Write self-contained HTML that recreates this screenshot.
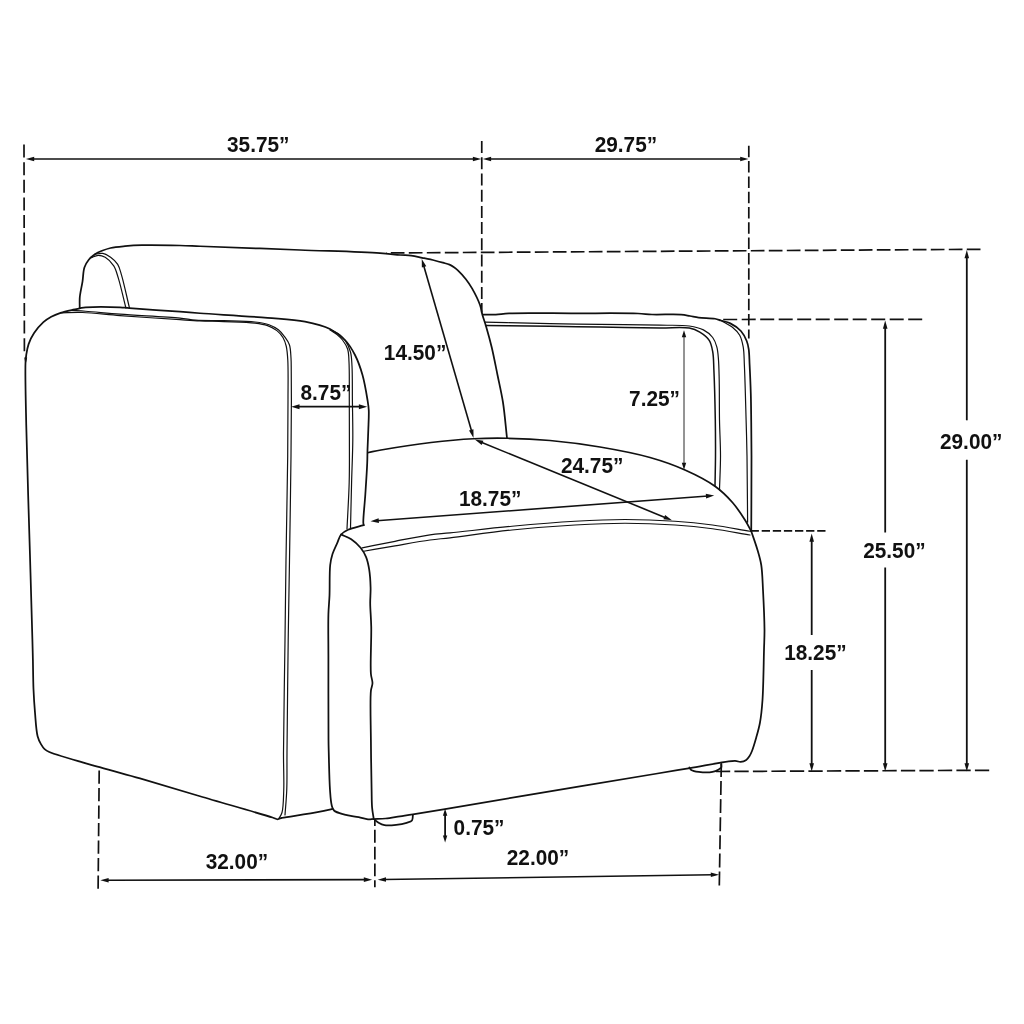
<!DOCTYPE html>
<html><head><meta charset="utf-8"><title>Chair dimensions</title>
<style>
html,body{margin:0;padding:0;background:#fff;}
body{width:1024px;height:1024px;overflow:hidden;}
svg{display:block;will-change:transform;}
text{font-family:"Liberation Sans",sans-serif;font-weight:bold;font-size:22.5px;fill:#111;}
</style></head><body>
<svg width="1024" height="1024" viewBox="0 0 1024 1024">
<rect width="1024" height="1024" fill="#fff"/>
<g fill="none" stroke="#111" stroke-width="1.75" stroke-linecap="round" stroke-linejoin="round">
<path d="M79.70,308.10 C79.73,304.47 79.44,301.14 79.80,297.20 C80.23,292.45 81.72,286.68 82.50,281.60 C83.24,276.79 83.10,271.41 84.40,267.50 C85.43,264.40 86.94,261.94 88.75,259.70 C90.50,257.53 92.75,255.70 95.00,254.20 C97.18,252.75 99.51,251.80 102.00,250.80 C104.68,249.72 107.33,248.73 110.60,248.00 C114.75,247.07 120.00,246.66 125.00,246.20 C130.40,245.70 135.13,245.37 141.90,245.20 C152.05,244.94 169.33,245.26 180.00,245.50 C187.73,245.68 190.79,245.90 200.00,246.25 C220.60,247.02 268.52,248.80 300.00,250.00 C328.15,251.07 362.14,251.92 380.00,253.10 C389.01,253.70 394.57,254.57 400.30,255.00 C404.51,255.31 407.62,255.14 411.25,255.60 C414.92,256.07 418.43,257.01 422.20,257.80 C426.23,258.64 430.97,259.60 434.70,260.50 C437.76,261.24 440.41,261.98 443.00,262.70 C445.30,263.34 447.58,263.76 449.50,264.60 C451.19,265.34 452.57,266.30 454.00,267.30 C455.43,268.30 456.58,269.17 458.10,270.60 C460.36,272.73 463.54,276.18 465.90,279.20 C468.23,282.18 470.12,284.95 472.20,288.60 C474.83,293.23 478.30,300.21 480.00,305.00 C481.24,308.50 481.36,311.06 482.30,314.40 C483.39,318.29 484.88,322.21 486.25,326.90 C487.98,332.83 489.95,339.88 491.70,347.20 C493.73,355.71 495.61,365.75 497.50,375.00 C499.38,384.19 501.47,392.71 503.00,402.50 C504.72,413.54 505.67,426.17 507.00,438.00"/>
<path d="M79.70,308.10 C81.67,307.83 82.81,307.49 85.60,307.30 C92.31,306.85 112.13,306.97 120.00,307.30 C124.12,307.48 125.02,307.76 129.40,308.10 C139.56,308.89 166.98,310.73 180.00,311.70 C188.19,312.31 191.36,312.62 200.00,313.25 C215.86,314.40 248.29,316.18 267.50,317.80 C281.84,319.01 293.85,319.41 305.00,321.60 C314.27,323.42 322.98,325.52 330.00,329.00 C335.93,331.94 340.81,335.62 345.00,340.00 C349.12,344.31 352.16,349.46 355.00,355.00 C358.09,361.03 360.47,367.87 362.50,375.00 C364.72,382.79 366.45,393.53 367.50,400.00 C368.16,404.07 368.55,406.09 368.75,410.00 C369.03,415.51 368.51,423.33 368.30,430.00 C368.09,436.67 367.69,444.00 367.50,450.00 C367.35,454.91 367.42,458.00 367.20,463.40 C366.86,471.66 365.97,484.55 365.30,494.70 C364.67,504.32 363.06,518.57 363.30,522.80 C363.37,524.05 363.60,524.40 363.75,525.20"/>
<path d="M79.70,308.40 C77.50,308.83 75.64,309.14 73.10,309.70 C69.58,310.48 64.42,311.54 60.60,312.80 C57.21,313.92 54.15,315.10 51.25,316.70 C48.43,318.25 45.98,319.85 43.40,322.20 C40.25,325.07 36.62,329.30 34.10,333.10 C31.77,336.62 29.92,340.36 28.60,344.10 C27.35,347.66 26.77,351.66 26.25,355.00 C25.81,357.80 25.66,358.95 25.50,362.80 C25.05,373.64 25.75,400.45 26.25,425.00 C26.97,460.63 28.89,517.16 30.00,556.00 C30.89,587.10 31.91,621.64 32.40,640.00 C32.64,648.96 32.73,652.70 32.90,660.00 C33.10,668.84 33.11,680.09 33.50,689.30 C33.85,697.54 34.32,704.90 35.00,712.70 C35.68,720.53 36.09,730.46 37.60,736.20 C38.53,739.72 39.78,742.11 41.10,744.40 C42.17,746.26 43.21,747.82 44.60,749.10 C45.95,750.34 46.79,750.87 49.30,752.00 C57.06,755.49 83.81,762.60 99.70,767.20 C113.86,771.30 125.26,774.16 140.00,778.40 C158.04,783.59 179.05,790.06 200.00,796.25 C223.02,803.05 262.46,814.28 272.50,817.50 C275.16,818.35 275.95,819.24 277.50,819.25 C278.84,819.26 280.00,818.42 281.25,818.00"/>
<path d="M281.25,818.00 C294.17,815.90 310.66,813.50 320.00,811.70 C325.33,810.67 328.33,809.83 332.50,808.90"/>
<path d="M368.50,452.50 C372.67,451.67 375.43,450.97 381.00,450.00 C392.10,448.06 414.98,444.41 431.00,442.50 C445.71,440.75 460.11,439.44 473.50,438.75 C485.45,438.14 495.54,438.02 507.50,438.25 C520.88,438.51 535.28,439.16 550.00,440.50 C566.02,441.96 583.39,444.18 600.00,447.00 C616.72,449.84 634.95,453.25 650.00,457.50 C662.84,461.12 673.96,465.07 685.00,470.00 C695.58,474.72 706.65,480.26 715.00,486.25 C721.99,491.26 727.41,496.71 732.50,502.50 C737.33,508.00 741.66,514.72 745.00,520.00 C747.58,524.08 749.17,527.50 751.25,531.25"/>
<path d="M482.90,314.60 C487.20,314.60 491.48,314.81 495.80,314.60 C500.18,314.38 502.91,313.60 509.00,313.30 C522.59,312.63 553.26,313.27 575.00,313.30 C596.24,313.33 624.55,313.00 638.00,313.50 C644.35,313.74 646.48,314.29 652.00,314.50 C659.94,314.80 674.21,314.05 681.10,314.60 C684.94,314.91 687.05,315.50 690.00,316.00 C692.92,316.50 695.33,317.17 698.70,317.60 C703.29,318.18 711.05,318.01 715.10,318.75 C717.56,319.20 718.74,319.84 720.90,320.50 C723.66,321.34 727.20,321.86 730.30,323.40 C733.87,325.17 738.13,327.95 740.90,331.00 C743.51,333.87 745.39,337.74 746.70,341.00 C747.82,343.79 748.22,346.02 748.70,349.20 C749.34,353.49 749.30,358.58 749.60,364.50 C750.01,372.68 750.53,384.26 750.80,393.75 C751.05,402.73 751.09,410.56 751.20,420.00 C751.33,431.05 751.46,441.81 751.50,456.00 C751.55,476.51 751.33,506.17 751.25,531.25"/>
<path d="M363.75,525.20 C358.53,526.73 352.17,527.89 348.10,529.80 C345.17,531.17 342.90,532.38 341.10,534.50 C339.20,536.75 338.54,540.05 337.20,543.10 C335.69,546.53 333.67,550.38 332.50,554.10 C331.37,557.69 330.73,560.42 330.20,565.00 C329.32,572.59 329.86,586.64 329.50,595.60 C329.21,602.63 328.62,606.90 328.40,614.40 C328.07,625.55 328.39,639.72 328.40,656.00 C328.41,679.13 328.33,724.41 328.50,740.00 C328.56,746.01 328.61,747.22 328.75,752.50 C328.99,761.65 329.30,780.29 330.00,790.00 C330.45,796.20 330.71,801.49 331.70,805.20 C332.31,807.48 332.50,809.06 334.00,810.50 C336.10,812.52 340.76,813.51 344.60,814.60 C348.91,815.82 354.49,816.34 358.70,817.20 C362.13,817.90 365.32,819.08 368.00,819.30 C370.00,819.47 371.53,819.10 373.30,819.00"/>
<path d="M341.10,534.50 C344.48,536.07 348.09,537.09 351.25,539.20 C354.62,541.45 358.07,544.66 360.60,547.80 C362.94,550.70 364.69,553.73 366.10,557.20 C367.63,560.97 368.46,565.12 369.20,569.70 C370.08,575.14 370.45,581.99 370.60,587.80 C370.74,593.19 370.15,597.67 370.20,603.40 C370.27,610.43 371.08,617.73 371.25,626.90 C371.49,639.85 370.12,664.13 370.90,673.75 C371.25,678.08 372.55,680.13 372.50,683.10 C372.46,685.82 371.28,687.15 370.90,690.90 C369.96,700.20 370.78,723.56 370.90,740.00 C371.02,756.59 371.34,777.59 371.60,790.00 C371.76,797.36 371.65,802.42 372.10,807.60 C372.46,811.74 373.17,815.00 373.70,818.70"/>
<path d="M373.30,819.10 C377.40,818.90 381.35,818.93 385.60,818.50 C390.22,818.04 395.33,817.00 400.00,816.30 C404.42,815.64 407.64,815.22 412.90,814.40 C421.21,813.10 432.07,811.26 445.00,809.10 C464.78,805.79 491.30,801.22 520.00,796.40 C558.63,789.91 625.78,778.78 656.00,773.75 C671.11,771.24 677.87,770.08 690.00,768.10 C703.95,765.83 727.18,760.83 735.00,760.90 C737.76,760.92 738.75,762.04 740.60,761.90 C742.50,761.76 744.75,761.02 746.25,760.00 C747.61,759.07 748.48,757.65 749.40,756.25 C750.38,754.75 751.04,753.37 751.90,751.25 C753.28,747.84 754.92,742.20 756.25,737.50 C757.63,732.63 759.00,728.04 760.00,722.50 C761.21,715.79 761.87,708.99 762.50,700.00 C763.44,686.63 763.64,662.91 764.00,650.00 C764.22,641.83 764.55,637.81 764.50,630.00 C764.43,618.95 763.63,601.77 763.00,590.00 C762.50,580.69 762.40,572.23 761.25,565.00 C760.35,559.32 759.03,555.25 757.50,550.00 C755.77,544.07 753.33,537.50 751.25,531.25"/>
<path d="M689.40,767.50 C690.02,768.33 690.26,769.33 691.25,770.00 C692.82,771.05 695.85,771.54 698.75,771.90 C702.62,772.38 708.86,772.60 712.50,771.90 C715.05,771.41 717.18,770.29 718.75,769.40 C719.82,768.79 720.81,768.38 721.25,767.50 C721.73,766.54 721.25,765.00 721.25,763.75"/>
<path d="M374.85,819.90 C376.10,820.87 377.14,821.96 378.60,822.80 C380.29,823.77 382.15,824.77 384.50,825.20 C387.69,825.78 392.42,825.32 396.20,824.90 C399.81,824.50 403.83,823.70 406.70,822.80 C408.81,822.14 410.97,821.81 412.00,820.50 C412.99,819.24 412.60,816.97 412.90,815.20"/>
</g>
<g fill="none" stroke="#111" stroke-width="1.2" stroke-linecap="round" stroke-linejoin="round">
<path d="M91.10,257.80 C93.43,256.97 95.75,255.38 98.10,255.30 C100.45,255.22 102.90,255.95 105.20,257.30 C108.15,259.04 111.57,262.49 113.75,265.90 C116.04,269.47 116.81,273.29 118.40,278.40 C120.81,286.14 123.40,298.20 125.90,308.10"/>
<path d="M95.00,254.20 C97.60,253.93 100.27,252.94 102.80,253.40 C105.47,253.89 108.19,255.56 110.60,257.30 C113.19,259.16 115.89,261.54 117.70,264.40 C119.64,267.47 120.21,270.65 121.60,275.30 C123.95,283.18 126.80,296.90 129.40,307.70"/>
<path d="M60.60,312.80 C67.90,312.70 74.23,312.22 82.50,312.50 C93.34,312.87 106.03,314.55 120.00,315.60 C137.66,316.93 165.36,318.76 180.00,319.70 C188.45,320.24 193.04,320.59 200.00,320.90 C207.57,321.24 215.29,321.27 223.75,321.60 C233.45,321.98 246.96,322.11 255.00,323.10 C260.13,323.73 263.72,324.25 267.50,325.60 C270.96,326.83 274.25,328.50 276.90,330.60 C279.39,332.58 281.54,335.07 283.10,337.70 C284.64,340.29 285.48,342.99 286.25,346.25 C287.21,350.30 287.46,354.42 287.80,360.30 C288.37,370.16 288.00,385.63 288.00,400.00 C288.00,417.07 287.93,434.47 287.70,456.00 C287.38,485.34 286.47,527.60 286.00,560.00 C285.59,588.41 285.37,611.07 285.00,640.00 C284.56,674.31 283.59,725.05 283.50,752.50 C283.45,768.35 284.14,779.09 283.75,790.00 C283.45,798.46 283.45,807.42 282.00,812.50 C281.19,815.34 279.83,816.67 278.75,818.75"/>
<path d="M71.60,310.50 C76.27,310.75 79.91,310.85 85.60,311.25 C94.54,311.87 106.94,313.22 120.00,314.20 C137.23,315.50 166.51,316.75 180.00,318.10 C186.90,318.79 189.62,319.75 195.60,320.20 C203.59,320.81 214.12,320.41 223.75,320.70 C233.90,321.00 246.68,321.03 255.00,322.00 C260.62,322.66 264.90,323.23 269.00,324.70 C272.55,325.97 275.73,327.68 278.40,329.80 C280.91,331.80 282.85,334.39 284.70,336.90 C286.51,339.36 288.34,341.62 289.40,344.70 C290.68,348.43 290.69,353.56 291.00,358.00 C291.31,362.41 291.19,365.99 291.25,371.25 C291.34,379.00 291.41,388.83 291.40,400.00 C291.38,415.58 291.23,434.47 291.00,456.00 C290.68,485.34 290.00,527.60 289.50,560.00 C289.06,588.41 288.59,611.07 288.20,640.00 C287.74,674.31 287.24,725.05 287.00,752.50 C286.86,768.35 287.18,778.77 286.75,790.00 C286.40,799.18 285.58,806.67 285.00,815.00"/>
<path d="M330.00,330.00 C332.33,331.50 334.89,332.80 337.00,334.50 C339.04,336.14 340.83,337.81 342.50,340.00 C344.42,342.53 346.50,345.60 347.60,349.00 C348.83,352.82 348.68,356.52 349.00,362.00 C349.54,371.34 349.23,387.17 349.30,400.00 C349.37,413.16 349.42,426.50 349.40,440.00 C349.38,453.83 349.57,467.61 349.20,482.00 C348.81,497.23 347.73,513.33 347.00,529.00"/>
<path d="M333.00,331.00 C335.33,332.33 337.92,333.34 340.00,335.00 C342.09,336.67 343.88,338.54 345.50,341.00 C347.48,343.99 349.41,348.02 350.50,352.00 C351.67,356.30 351.66,360.31 352.00,366.00 C352.52,374.85 352.27,388.21 352.40,400.00 C352.54,412.79 352.93,426.51 352.80,440.00 C352.67,453.83 351.98,467.68 351.60,482.00 C351.21,496.98 350.87,512.67 350.50,528.00"/>
<path d="M720.90,320.50 C724.83,322.83 729.44,324.84 732.70,327.50 C735.54,329.82 737.97,332.14 739.70,335.20 C741.57,338.52 742.41,342.49 743.20,346.90 C744.18,352.36 744.02,357.74 744.40,365.60 C745.04,379.00 745.64,403.73 746.10,420.00 C746.47,433.23 746.76,442.19 747.00,456.00 C747.32,474.73 747.40,500.13 747.60,522.20"/>
<path d="M484.80,322.20 C506.53,322.67 529.71,323.22 550.00,323.60 C567.77,323.93 582.57,324.14 600.00,324.40 C619.09,324.68 643.55,324.87 660.00,325.20 C671.50,325.43 681.36,324.81 689.30,326.00 C694.91,326.84 699.37,327.82 703.40,329.90 C707.05,331.79 710.44,334.52 712.70,337.50 C714.79,340.25 715.85,343.52 716.80,346.90 C717.82,350.52 718.01,354.12 718.40,358.60 C718.92,364.59 719.01,371.54 719.20,379.70 C719.46,390.98 719.27,406.95 719.50,420.00 C719.72,432.34 720.51,444.17 720.50,456.00 C720.49,467.50 719.83,478.67 719.50,490.00"/>
<path d="M362.20,547.80 C373.13,545.63 383.88,543.43 395.00,541.30 C406.47,539.10 419.93,536.21 430.00,534.80 C437.57,533.74 441.50,533.76 450.00,532.90 C464.98,531.39 491.24,528.19 512.00,526.25 C532.90,524.30 555.20,522.38 575.00,521.25 C592.62,520.24 608.33,519.50 625.00,519.50 C641.67,519.50 659.55,520.21 675.00,521.25 C688.41,522.15 700.03,523.34 712.50,525.00 C725.03,526.67 737.50,529.17 750.00,531.25"/>
<path d="M363.75,551.25 C374.17,549.43 384.28,547.62 395.00,545.80 C406.33,543.87 419.94,541.39 430.00,540.00 C437.58,538.96 441.50,538.80 450.00,537.80 C464.98,536.03 491.23,532.13 512.00,530.00 C532.89,527.86 555.20,526.13 575.00,525.00 C592.62,523.99 608.33,523.25 625.00,523.25 C641.67,523.25 659.55,523.96 675.00,525.00 C688.41,525.90 700.03,527.09 712.50,528.75 C725.03,530.42 737.50,532.92 750.00,535.00"/>
</g>
<g fill="none" stroke="#111" stroke-width="1.5" stroke-linecap="round" stroke-linejoin="round">
<path d="M485.60,325.50 C507.07,325.77 529.89,326.01 550.00,326.30 C567.72,326.55 582.57,326.84 600.00,327.10 C619.09,327.38 643.55,327.73 660.00,327.90 C671.50,328.02 682.08,326.71 689.30,328.10 C693.78,328.96 696.55,330.23 699.80,332.20 C703.21,334.27 707.05,337.10 709.20,340.40 C711.29,343.60 711.91,347.34 712.70,351.60 C713.70,356.99 713.54,362.57 713.90,370.30 C714.48,382.89 715.04,404.76 715.30,420.00 C715.52,432.96 715.56,444.55 715.50,456.00 C715.44,466.46 715.17,476.00 715.00,486.00"/>
</g>
<g>
<line x1="32.21" y1="159.06" x2="474.89" y2="159.06" stroke="#111" stroke-width="1.60"/>
<polygon points="25.90,159.06 34.20,156.76 34.20,161.36" fill="#111"/>
<polygon points="481.20,159.06 472.90,161.36 472.90,156.76" fill="#111"/>
<line x1="489.11" y1="159.06" x2="742.19" y2="159.00" stroke="#111" stroke-width="1.60"/>
<polygon points="482.80,159.06 491.10,156.76 491.10,161.36" fill="#111"/>
<polygon points="748.50,159.00 740.20,161.30 740.20,156.70" fill="#111"/>
<line x1="24.00" y1="144.60" x2="24.40" y2="352.00" stroke="#111" stroke-width="1.70" stroke-dasharray="13 4.6"/>
<polygon points="24.2,357.5 27.2,357.5 25.6,364.5" fill="#111"/>
<line x1="481.76" y1="141.10" x2="481.76" y2="312.50" stroke="#111" stroke-width="1.70" stroke-dasharray="12 4.2"/>
<line x1="748.80" y1="145.80" x2="748.80" y2="338.50" stroke="#111" stroke-width="1.70" stroke-dasharray="11.5 3.8"/>
<line x1="980.50" y1="249.30" x2="386.00" y2="253.00" stroke="#111" stroke-width="1.70" stroke-dasharray="13.7 4.3"/>
<line x1="922.20" y1="319.30" x2="721.25" y2="319.50" stroke="#111" stroke-width="1.70" stroke-dasharray="14 4.5"/>
<line x1="825.50" y1="530.80" x2="751.10" y2="530.80" stroke="#111" stroke-width="1.80" stroke-dasharray="8.3 2.8"/>
<line x1="989.20" y1="770.30" x2="715.00" y2="771.50" stroke="#111" stroke-width="1.70" stroke-dasharray="14.3 4.2"/>
<line x1="966.80" y1="256.31" x2="966.80" y2="420.30" stroke="#111" stroke-width="1.80"/>
<line x1="966.80" y1="459.80" x2="966.80" y2="765.19" stroke="#111" stroke-width="1.80"/>
<polygon points="966.80,250.00 969.10,258.30 964.50,258.30" fill="#111"/>
<polygon points="966.80,771.50 964.50,763.20 969.10,763.20" fill="#111"/>
<line x1="885.20" y1="326.81" x2="885.20" y2="532.50" stroke="#111" stroke-width="1.80"/>
<line x1="885.20" y1="567.50" x2="885.20" y2="765.19" stroke="#111" stroke-width="1.80"/>
<polygon points="885.20,320.50 887.50,328.80 882.90,328.80" fill="#111"/>
<polygon points="885.20,771.50 882.90,763.20 887.50,763.20" fill="#111"/>
<line x1="811.70" y1="539.81" x2="811.70" y2="635.00" stroke="#111" stroke-width="1.80"/>
<line x1="811.70" y1="670.00" x2="811.70" y2="765.19" stroke="#111" stroke-width="1.80"/>
<polygon points="811.70,533.50 814.00,541.80 809.40,541.80" fill="#111"/>
<polygon points="811.70,771.50 809.40,763.20 814.00,763.20" fill="#111"/>
<line x1="719.30" y1="885.50" x2="721.30" y2="763.75" stroke="#111" stroke-width="1.70" stroke-dasharray="14 4.1"/>
<line x1="374.85" y1="819.30" x2="374.85" y2="887.30" stroke="#111" stroke-width="1.70" stroke-dasharray="12.9 3.9" stroke-dashoffset="6.25"/>
<line x1="99.20" y1="770.50" x2="98.10" y2="889.50" stroke="#111" stroke-width="1.70" stroke-dasharray="13.2 4.3"/>
<line x1="106.61" y1="880.19" x2="365.79" y2="879.66" stroke="#111" stroke-width="1.60"/>
<polygon points="100.30,880.20 108.60,877.88 108.60,882.48" fill="#111"/>
<polygon points="372.10,879.65 363.80,881.97 363.80,877.37" fill="#111"/>
<line x1="384.01" y1="879.57" x2="712.79" y2="874.78" stroke="#111" stroke-width="1.60"/>
<polygon points="377.70,879.66 385.97,877.24 386.03,881.84" fill="#111"/>
<polygon points="719.10,874.69 710.83,877.11 710.77,872.51" fill="#111"/>
<line x1="445.10" y1="814.20" x2="445.10" y2="837.20" stroke="#111" stroke-width="1.80"/>
<polygon points="445.10,808.80 447.30,815.80 442.90,815.80" fill="#111"/>
<polygon points="445.10,842.60 442.90,835.60 447.30,835.60" fill="#111"/>
<line x1="297.51" y1="406.70" x2="360.89" y2="406.70" stroke="#111" stroke-width="1.80"/>
<polygon points="291.20,406.70 299.50,404.20 299.50,409.20" fill="#111"/>
<polygon points="367.20,406.70 358.90,409.20 358.90,404.20" fill="#111"/>
<line x1="423.51" y1="264.98" x2="471.79" y2="431.82" stroke="#111" stroke-width="1.60"/>
<polygon points="421.76,258.92 426.28,266.25 421.86,267.53" fill="#111"/>
<polygon points="473.54,437.88 469.02,430.55 473.44,429.27" fill="#111"/>
<line x1="480.68" y1="442.00" x2="666.12" y2="517.90" stroke="#111" stroke-width="1.60"/>
<polygon points="474.84,439.61 483.39,440.63 481.65,444.88" fill="#111"/>
<polygon points="671.96,520.29 663.41,519.27 665.15,515.02" fill="#111"/>
<line x1="376.79" y1="520.81" x2="707.96" y2="495.94" stroke="#111" stroke-width="1.60"/>
<polygon points="370.50,521.29 378.61,518.37 378.95,522.96" fill="#111"/>
<polygon points="714.25,495.46 706.14,498.38 705.80,493.79" fill="#111"/>
<line x1="684.00" y1="335.60" x2="684.00" y2="464.30" stroke="#111" stroke-width="0.90"/>
<polygon points="684.00,330.20 686.20,337.20 681.80,337.20" fill="#111"/>
<polygon points="684.00,469.70 681.80,462.70 686.20,462.70" fill="#111"/>
</g>
<g>
<text text-anchor="middle" transform="translate(258.27,152.40) scale(0.925,1)">35.75”</text>
<text text-anchor="middle" transform="translate(625.90,151.80) scale(0.925,1)">29.75”</text>
<text text-anchor="middle" transform="translate(415.10,359.80) scale(0.925,1)">14.50”</text>
<text text-anchor="middle" transform="translate(325.95,400.20) scale(0.925,1)">8.75”</text>
<text text-anchor="middle" transform="translate(654.50,406.10) scale(0.925,1)">7.25”</text>
<text text-anchor="middle" transform="translate(592.15,473.30) scale(0.925,1)">24.75”</text>
<text text-anchor="middle" transform="translate(490.15,506.20) scale(0.925,1)">18.75”</text>
<text text-anchor="middle" transform="translate(971.20,448.80) scale(0.925,1)">29.00”</text>
<text text-anchor="middle" transform="translate(894.38,557.60) scale(0.925,1)">25.50”</text>
<text text-anchor="middle" transform="translate(815.38,660.10) scale(0.925,1)">18.25”</text>
<text text-anchor="middle" transform="translate(479.00,834.60) scale(0.925,1)">0.75”</text>
<text text-anchor="middle" transform="translate(538.00,864.60) scale(0.925,1)">22.00”</text>
<text text-anchor="middle" transform="translate(236.88,869.10) scale(0.925,1)">32.00”</text>
</g>
</svg>
</body></html>
